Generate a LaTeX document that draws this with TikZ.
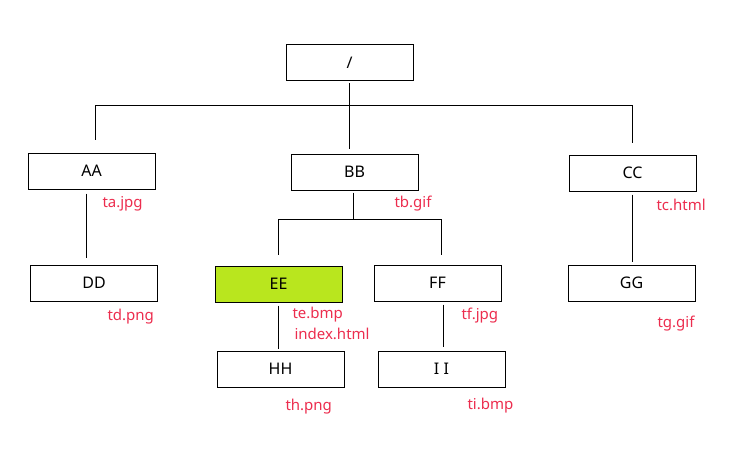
\documentclass[tikz,border=0pt]{standalone}
\usepackage{fontspec}
\setmainfont{Noto Sans}
\definecolor{filered}{RGB}{236,45,78}
\definecolor{selgreen}{RGB}{185,230,30}
\begin{document}
\begin{tikzpicture}[x=1pt,y=-1pt,font=\fontsize{15}{18}\selectfont,line width=1pt,
  dirbox/.style={draw,minimum width=127pt,minimum height=36pt,inner sep=0pt,font=\fontsize{16}{19}\selectfont},
  fname/.style={anchor=base west,inner sep=0pt,text=filered}]
\useasboundingbox (0,0) rectangle (753,460);
\node[dirbox] (root) at (349.5,63) {/};
\node[dirbox] (AA) at (91.5,171) {AA};
\node[dirbox] (BB) at (354.5,172) {BB};
\node[dirbox] (CC) at (632.5,173) {CC};
\node[dirbox] (DD) at (94,283) {DD};
\node[dirbox,fill=selgreen] (EE) at (278.5,284) {EE};
\node[dirbox] (FF) at (437.5,283) {FF};
\node[dirbox] (GG) at (631.5,283) {GG};
\node[dirbox] (HH) at (280.5,369) {HH};
\node[dirbox] (II) at (441.5,369) {I I};
\node[fname] (ta) at (102,207) {ta.jpg};
\node[fname] (tb) at (394,207) {tb.gif};
\node[fname] (tc) at (656,210) {tc.html};
\node[fname] (td) at (107,320) {td.png};
\node[fname] (te) at (292,318) {te.bmp};
\node[fname] (index) at (294,339) {index.html};
\node[fname] (tf) at (461,319) {tf.jpg};
\node[fname] (tg) at (657,327) {tg.gif};
\node[fname] (th) at (285,410) {th.png};
\node[fname] (ti) at (467,409) {ti.bmp};
\coordinate (busL) at (95,106);
\coordinate (busR) at (632,106);
\coordinate (subL) at (278,219);
\coordinate (subR) at (441,219);
\draw ([yshift=-2pt]root.south) -- ([yshift=5pt]root.south |- BB.north);
\draw ([yshift=13pt]busL |- AA.north) -- (busL) -- (busR) -- ([yshift=12pt]busR |- CC.north);
\draw ([xshift=-5.5pt,yshift=-4pt]AA.south) -- ([xshift=-5.5pt,yshift=7pt]AA.south |- DD.north);
\draw ([xshift=-1.5pt,yshift=-2pt]BB.south) -- ([xshift=-1.5pt]BB.south |- subL);
\draw ([yshift=11pt]subL |- EE.north) -- (subL) -- (subR) -- ([yshift=10pt]subR |- FF.north);
\draw ([yshift=-3pt]EE.south) -- ([yshift=2pt]EE.south |- HH.north);
\draw ([xshift=5.5pt,yshift=-3pt]FF.south) -- ([xshift=5.5pt,yshift=4pt]FF.south |- II.north);
\draw ([yshift=-3pt]CC.south) -- ([yshift=3pt]CC.south |- GG.north);
\end{tikzpicture}
\end{document}
